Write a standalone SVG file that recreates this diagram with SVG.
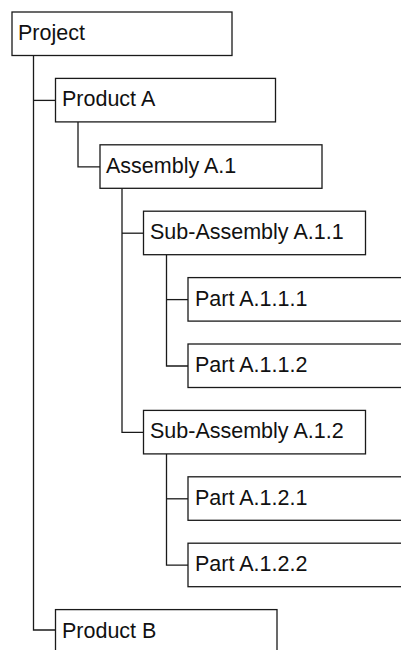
<svg xmlns="http://www.w3.org/2000/svg" width="401" height="650" viewBox="0 0 401 650">
<style>
.box{fill:#fff;stroke:#1a1a1a;stroke-width:1.3}
.lbl{font-family:"Liberation Sans",Arial,sans-serif;font-size:21.5px;fill:#111}
.con{fill:none;stroke:#1a1a1a;stroke-width:1.3}
</style>
<rect width="401" height="650" fill="#fff"/>
<g id="connectors">
<path class="con" d="M33.5,55.5 V630 H55.5"/>
<path class="con" d="M33.5,100.4 H55.5"/>
<path class="con" d="M78,122 V166.8 H100"/>
<path class="con" d="M122,188.3 V432.4 H143.5"/>
<path class="con" d="M122,233.2 H143.5"/>
<path class="con" d="M166.5,254.7 V366 H188"/>
<path class="con" d="M166.5,299.6 H188"/>
<path class="con" d="M166.5,454 V565.2 H188"/>
<path class="con" d="M166.5,498.8 H188"/>
</g>
<g id="project"><rect class="box" x="12" y="12" width="220" height="43.5"/><text class="lbl" x="18" y="40">Project</text></g>
<g id="productA"><rect class="box" x="55.5" y="78.4" width="220" height="43.5"/><text class="lbl" x="62" y="106.4">Product A</text></g>
<g id="assemblyA1"><rect class="box" x="100" y="144.8" width="222" height="43.5"/><text class="lbl" x="106" y="172.8">Assembly A.1</text></g>
<g id="subA11"><rect class="box" x="143.5" y="211.2" width="222" height="43.5"/><text class="lbl" x="150" y="239.2">Sub-Assembly A.1.1</text></g>
<g id="partA111"><rect class="box" x="188" y="277.6" width="222" height="43.5"/><text class="lbl" x="195" y="305.6">Part A.1.1.1</text></g>
<g id="partA112"><rect class="box" x="188" y="344" width="222" height="43.5"/><text class="lbl" x="195" y="372">Part A.1.1.2</text></g>
<g id="subA12"><rect class="box" x="143.5" y="410.4" width="222" height="43.5"/><text class="lbl" x="150" y="438.4">Sub-Assembly A.1.2</text></g>
<g id="partA121"><rect class="box" x="188" y="476.8" width="222" height="43.5"/><text class="lbl" x="195" y="504.8">Part A.1.2.1</text></g>
<g id="partA122"><rect class="box" x="188" y="543.2" width="222" height="43.5"/><text class="lbl" x="195" y="571.2">Part A.1.2.2</text></g>
<g id="productB"><rect class="box" x="55.5" y="609.6" width="221.5" height="43.5"/><text class="lbl" x="62" y="637.6">Product B</text></g>
</svg>
